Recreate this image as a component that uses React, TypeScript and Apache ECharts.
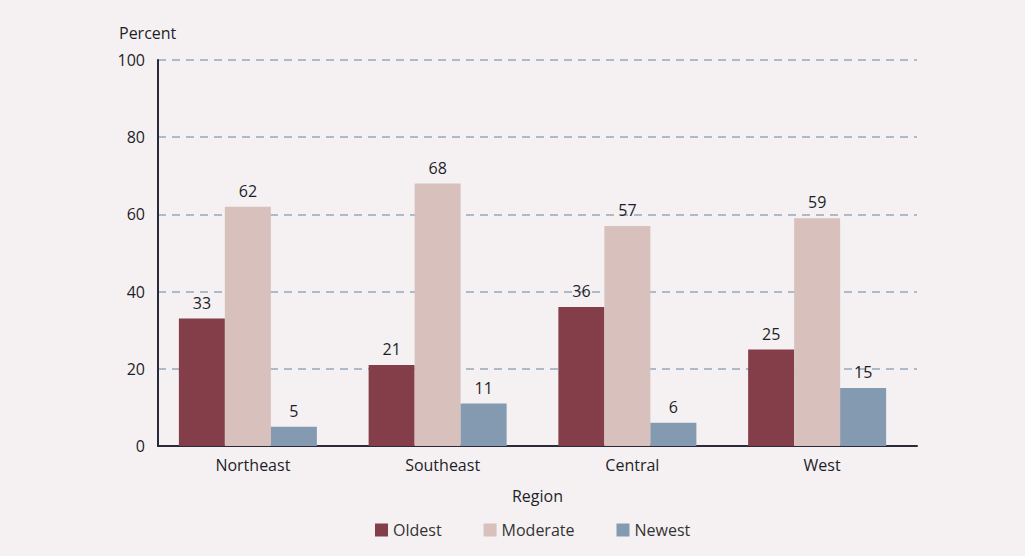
import React, { useEffect, useRef } from "react";
import * as echarts from "echarts";

const categories = ["Northeast", "Southeast", "Central", "West"];
const oldest = [33, 21, 36, 25];
const moderate = [62, 68, 57, 59];
const newest = [5, 11, 6, 15];
const seriesNames = ["Oldest", "Moderate", "Newest"];
const colors = ["#843e4a", "#d8c1bc", "#839ab1"];

const FONT = "'Open Sans', 'Noto Sans', sans-serif";
const TEXT = "#1e1e2a";

export default function App() {
  const ref = useRef<HTMLDivElement>(null);
  useEffect(() => {
    const chart = echarts.init(ref.current!, null, { renderer: "svg" });
    const label = {
      show: true,
      position: "top",
      distance: 8,
      color: TEXT,
      fontSize: 16,
      fontFamily: FONT,
    };
    const data = [oldest, moderate, newest];
    const series: any[] = seriesNames.map((n, i) => ({
      name: n,
      type: "bar",
      data: data[i],
      barGap: "0%",
      barWidth: 46,
      itemStyle: { color: colors[i] },
      label,
    }));
    // invisible spacer to reproduce the slight left offset of each bar group
    series.push({
      name: "spacer",
      type: "bar",
      data: categories.map(() => "-"),
      barGap: "0%",
      barWidth: 10,
      silent: true,
      itemStyle: { color: "transparent" },
    });
    chart.setOption({
      animation: false,
      backgroundColor: "#f5f1f2",
      textStyle: { fontFamily: FONT },
      grid: { left: 158, right: 108, top: 60, bottom: 110 },
      graphic: [
        {
          type: "text",
          left: 119,
          top: 25,
          style: { text: "Percent", fontSize: 16, fontFamily: FONT, fill: TEXT },
        },
      ],
      legend: {
        left: 370,
        bottom: 13,
        itemWidth: 13,
        itemHeight: 13,
        itemGap: 42,
        icon: "rect",
        textStyle: { fontSize: 16, color: "#333", fontFamily: FONT },
        data: seriesNames,
      },
      xAxis: {
        type: "category",
        data: categories,
        name: "Region",
        nameLocation: "middle",
        nameGap: 42,
        nameTextStyle: { fontSize: 16, color: TEXT, fontFamily: FONT },
        axisLine: { lineStyle: { color: "#2a2a3a", width: 2 } },
        axisTick: { show: false },
        axisLabel: { fontSize: 16, color: TEXT, margin: 11, fontFamily: FONT },
      },
      yAxis: {
        type: "value",
        min: 0,
        max: 100,
        interval: 20,
        axisLine: { show: true, lineStyle: { color: "#2a2a3a", width: 2 } },
        axisTick: { show: false },
        axisLabel: { fontSize: 16, color: TEXT, margin: 13, fontFamily: FONT },
        splitLine: {
          lineStyle: { color: "#97a8ba", type: [8, 6], width: 1.5 },
        },
      },
      series,
    });
    return () => chart.dispose();
  }, []);
  return (
    <div
      ref={ref}
      style={{ position: "absolute", left: 0, top: 0, width: 1025, height: 556 }}
    />
  );
}
